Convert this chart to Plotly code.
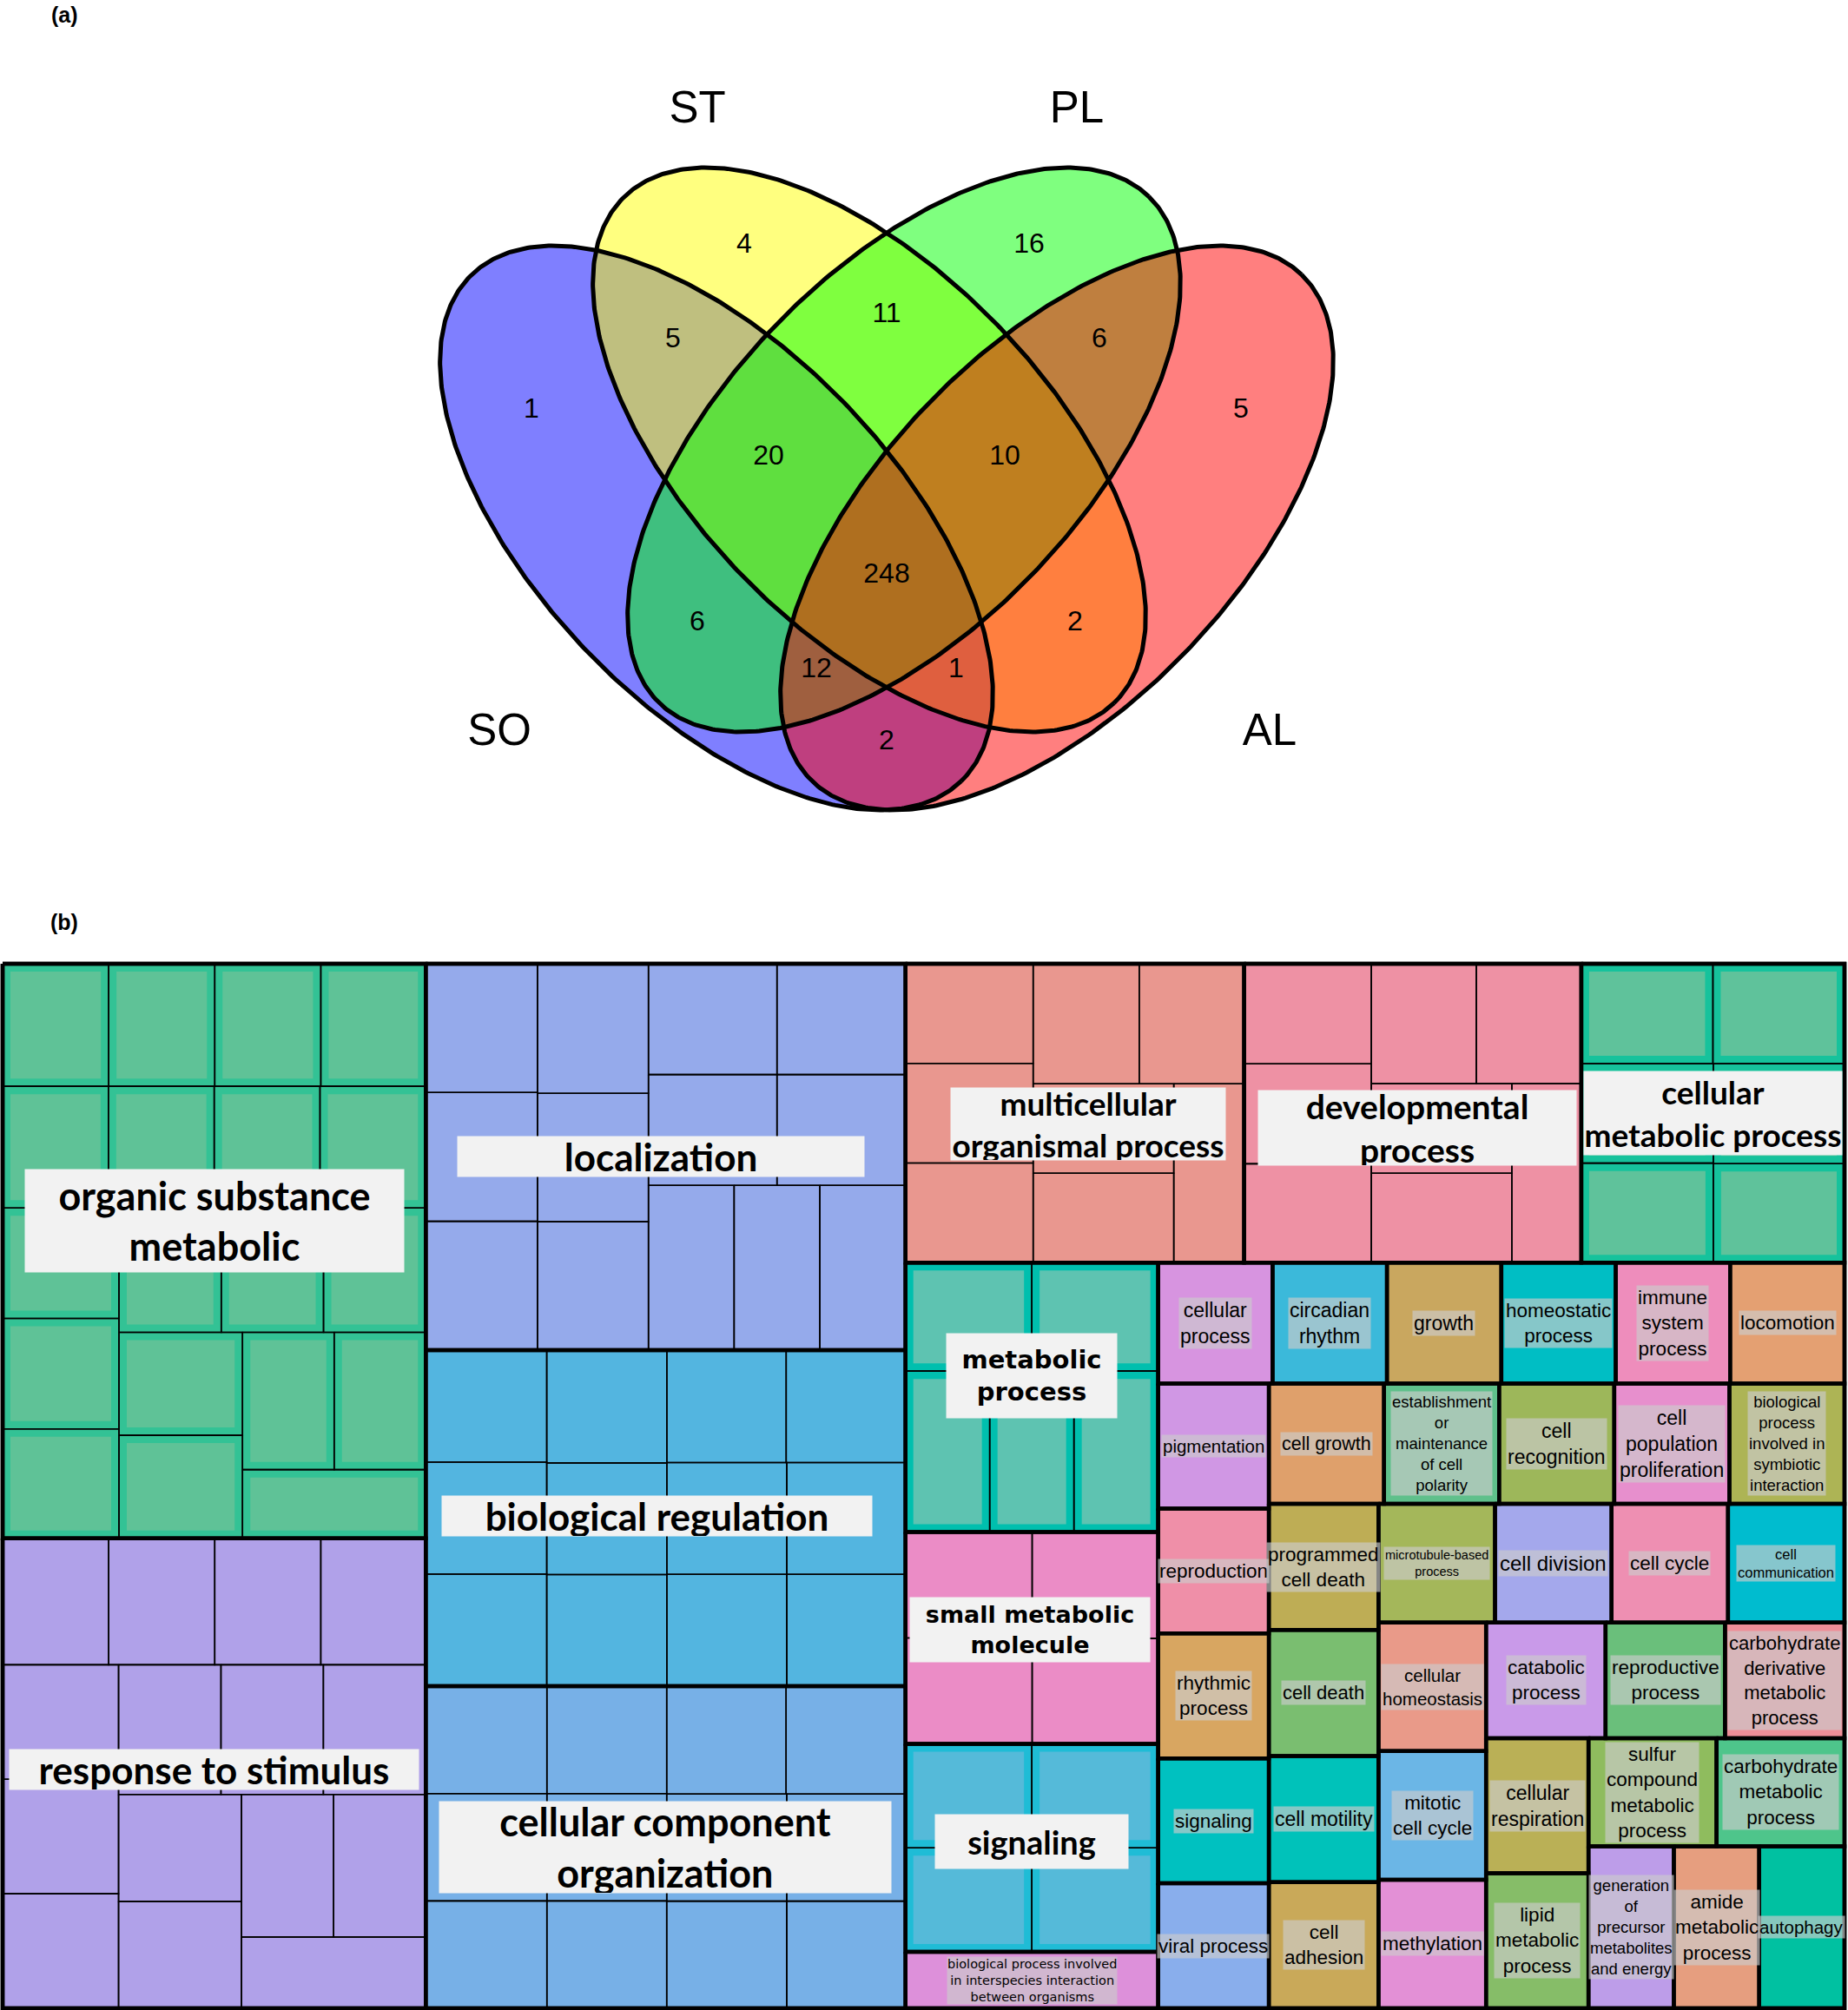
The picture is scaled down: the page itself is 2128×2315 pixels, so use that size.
import numpy as np
import plotly.graph_objects as go

# ======================= (a) Venn diagram data =======================
set_names = ["SO", "ST", "PL", "AL"]
region_names = ["SO", "ST", "PL", "AL", "SO&ST", "ST&PL", "PL&AL", "SO&ST&PL", "ST&PL&AL",
                "SO&ST&PL&AL", "SO&PL", "ST&AL", "SO&PL&AL", "SO&ST&AL", "SO&AL"]
region_counts = [1, 4, 16, 5, 5, 11, 6, 20, 10, 248, 6, 2, 12, 1, 2]

# ======================= (b) treemap data =======================
group_names = ["organic substance metabolic", "response to stimulus", "localization",
               "biological regulation", "cellular component organization",
               "multicellular organismal process", "developmental process",
               "cellular metabolic process", "metabolic process", "small metabolic molecule",
               "signaling group", "biological process involved in interspecies interaction between organisms"]
organic_vals = [0.94, 0.94, 0.94, 0.93, 0.93, 0.93, 0.93, 0.93, 0.93, 0.93, 0.92, 0.92, 0.92, 0.92, 0.92, 0.92, 0.91, 0.91, 0.91]
response_vals = [0.97, 0.97, 0.97, 0.96, 0.96, 0.96, 0.96, 0.96, 0.96, 0.96, 0.95, 0.95, 0.95, 0.95, 0.95]
localization_vals = [1.04, 1.04, 1.04, 1.04, 1.03, 1.03, 1.03, 1.03, 1.03, 1.03, 1.02, 1.02, 1.02]
bioreg_vals = [0.98, 0.98, 0.98, 0.98, 0.97, 0.97, 0.97, 0.97, 0.97, 0.97, 0.96, 0.96]
cco_vals = [0.94, 0.94, 0.94, 0.93, 0.93, 0.93, 0.93, 0.93, 0.93, 0.93, 0.92, 0.92]
multicell_vals = [0.92, 0.92, 0.92, 0.92, 0.91, 0.91, 0.91, 0.91]
dev_vals = [0.92, 0.92, 0.91, 0.91, 0.91, 0.91, 0.91, 0.90]
cellmeta_vals = [0.95, 0.95, 0.95, 0.95, 0.95, 0.94]
metabolic_vals = [0.99, 0.99, 0.98, 0.98, 0.98]
smallmol_vals = [0.97, 0.97, 0.97, 0.96]
signal_vals = [0.95, 0.95, 0.95, 0.95]
interspecies_vals = [1.03]
group_values = [organic_vals, response_vals, localization_vals, bioreg_vals, cco_vals,
                multicell_vals, dev_vals, cellmeta_vals, metabolic_vals, smallmol_vals,
                signal_vals, interspecies_vals]

single_names = ["cellular process", "circadian rhythm", "growth", "homeostatic process",
                "immune system process", "locomotion", "pigmentation", "reproduction",
                "rhythmic process", "signaling", "viral process", "cell growth",
                "establishment or maintenance of cell polarity", "cell recognition",
                "cell population proliferation",
                "biological process involved in symbiotic interaction",
                "programmed cell death", "cell death", "cell motility", "cell adhesion",
                "microtubule-based process", "cell division", "cell cycle", "cell communication",
                "cellular homeostasis", "mitotic cell cycle", "methylation", "catabolic process",
                "reproductive process", "carbohydrate derivative metabolic process",
                "cellular respiration", "lipid metabolic process",
                "sulfur compound metabolic process", "carbohydrate metabolic process",
                "generation of precursor metabolites and energy", "amide metabolic process",
                "autophagy"]
single_values = [1.0, 1.0, 1.0, 1.0, 1.0, 1.0, 1.0, 1.0, 1.0, 1.0, 1.0, 1.0, 1.0, 1.0, 1.0,
                 1.0, 1.0, 1.0, 1.0, 1.0, 1.0, 1.0, 1.0, 1.0, 1.0, 1.0, 1.0, 1.0, 1.0, 1.0,
                 1.0, 1.0, 1.0, 1.0, 1.0, 1.0, 1.0]

# ======================= styles =======================
W_FIG, H_FIG = 2128, 2315
venn_fill = ["rgba(0,0,255,0.5)", "rgba(255,255,0,0.5)", "rgba(0,255,0,0.5)", "rgba(255,0,0,0.5)"]
# ellipse geometry (figure pixel space): centre x, centre y, semi-major, semi-minor, angle(deg)
venn_geom = [(825, 608, 405.6, 206, 46), (1001, 518, 405.6, 206, 46),
             (1041, 518, 405.6, 206, -46), (1217, 608, 405.6, 206, -46)]
set_label_pos = [(575, 845), (803, 128), (1240, 128), (1462, 845)]
region_label_pos = [(612, 473), (857, 283), (1185, 283), (1429, 473), (775, 392), (1021, 363),
                    (1266, 392), (885, 527), (1157, 527), (1021, 663), (803, 718), (1238, 718),
                    (940, 772), (1101, 772), (1021, 855)]

TM_X0, TM_Y0, TM_W, TM_H = 3, 1110, 2121, 1203
INNER_ASPECT = 1.05   # horizontal stretch used when tiling the children of a group

group_style = {
    "organic substance metabolic": dict(fill="#33c295", inner="#5fc297"),
    "response to stimulus": dict(fill="#b0a1e9"),
    "localization": dict(fill="#95aaeb"),
    "biological regulation": dict(fill="#53b5e0"),
    "cellular component organization": dict(fill="#77b0e7"),
    "multicellular organismal process": dict(fill="#e9978f"),
    "developmental process": dict(fill="#ee91a4"),
    "cellular metabolic process": dict(fill="#16c29c", inner="#5fc29b"),
    "metabolic process": dict(fill="#00bfae", inner="#5ec3b1"),
    "small metabolic molecule": dict(fill="#eb8cc6"),
    "signaling group": dict(fill="#1fbcd6", inner="#55bad9"),
    "biological process involved in interspecies interaction between organisms": dict(fill="#dd90da"),
}
single_colors = {
    "cellular process": "#d794e0", "circadian rhythm": "#3bb9da", "growth": "#c9a75f",
    "homeostatic process": "#00bec4", "immune system process": "#ee8dbc", "locomotion": "#e4a072",
    "pigmentation": "#d097e4", "cell growth": "#dfa06b",
    "establishment or maintenance of cell polarity": "#5fc08b", "cell recognition": "#9db75a",
    "cell population proliferation": "#e78fcd",
    "biological process involved in symbiotic interaction": "#adb455",
    "reproduction": "#ef8fa8", "programmed cell death": "#bead55",
    "microtubule-based process": "#a4b75a", "cell division": "#a4a8ec", "cell cycle": "#ee8fb2",
    "cell communication": "#00bccf", "rhythmic process": "#d8a661", "cell death": "#7abe70",
    "cellular homeostasis": "#e99a89", "catabolic process": "#c99ae9",
    "reproductive process": "#6abf7b", "carbohydrate derivative metabolic process": "#ee8e98",
    "signaling": "#00c1c0", "cell motility": "#00c2ba", "mitotic cell cycle": "#6bb6e6",
    "cellular respiration": "#bab056", "sulfur compound metabolic process": "#8fbc5e",
    "carbohydrate metabolic process": "#4ec58b", "viral process": "#89aeec",
    "cell adhesion": "#c9a959", "methylation": "#e390d6", "lipid metabolic process": "#86bd68",
    "generation of precursor metabolites and energy": "#bd9de9",
    "amide metabolic process": "#e69e7f", "autophagy": "#00c1a1",
}
single_text = {
    "cellular process": ("cellular<br>process", 23), "circadian rhythm": ("circadian<br>rhythm", 23),
    "growth": ("growth", 23), "homeostatic process": ("homeostatic<br>process", 22.5),
    "immune system process": ("immune<br>system<br>process", 22.5), "locomotion": ("locomotion", 22.5),
    "pigmentation": ("pigmentation", 20.5), "cell growth": ("cell growth", 21.5),
    "establishment or maintenance of cell polarity":
        ("establishment<br>or<br>maintenance<br>of cell<br>polarity", 18.5),
    "cell recognition": ("cell<br>recognition", 23),
    "cell population proliferation": ("cell<br>population<br>proliferation", 23),
    "biological process involved in symbiotic interaction":
        ("biological<br>process<br>involved in<br>symbiotic<br>interaction", 18.5),
    "reproduction": ("reproduction", 22.5), "programmed cell death": ("programmed<br>cell death", 22.5),
    "microtubule-based process": ("microtubule-based<br>process", 14.5),
    "cell division": ("cell division", 24), "cell cycle": ("cell cycle", 22.5),
    "cell communication": ("cell<br>communication", 16.5),
    "rhythmic process": ("rhythmic<br>process", 22.5), "cell death": ("cell death", 22),
    "cellular homeostasis": ("cellular<br>homeostasis", 20.5),
    "catabolic process": ("catabolic<br>process", 22.5),
    "reproductive process": ("reproductive<br>process", 22.5),
    "carbohydrate derivative metabolic process":
        ("carbohydrate<br>derivative<br>metabolic<br>process", 22),
    "signaling": ("signaling", 22.5), "cell motility": ("cell motility", 23),
    "mitotic cell cycle": ("mitotic<br>cell cycle", 22.5),
    "cellular respiration": ("cellular<br>respiration", 23),
    "sulfur compound metabolic process": ("sulfur<br>compound<br>metabolic<br>process", 22.5),
    "carbohydrate metabolic process": ("carbohydrate<br>metabolic<br>process", 22.5),
    "viral process": ("viral process", 22.5), "cell adhesion": ("cell<br>adhesion", 22.5),
    "methylation": ("methylation", 22.5),
    "lipid metabolic process": ("lipid<br>metabolic<br>process", 22.5),
    "generation of precursor metabolites and energy":
        ("generation<br>of<br>precursor<br>metabolites<br>and energy", 18.5),
    "amide metabolic process": ("amide<br>metabolic<br>process", 22.5),
    "autophagy": ("autophagy", 20.5),
}
LATO = "Lato, Open Sans, sans-serif"
DEJA = "DejaVu Sans, Verdana, sans-serif"
big_labels = {
    "organic substance metabolic": dict(text="organic substance<br>metabolic", font=LATO, size=45, w=436, h=118, dx=0, dy=-35),
    "response to stimulus": dict(text="response to stimulus", font=LATO, size=44, w=471, h=46, dx=0, dy=-4),
    "localization": dict(text="localization", font=LATO, size=44, w=468, h=46, dx=-5, dy=0),
    "biological regulation": dict(text="biological regulation", font=LATO, size=44, w=495, h=46, dx=-10, dy=-3),
    "cellular component organization": dict(text="cellular component<br>organization", font=LATO, size=45, w=520, h=105, dx=0, dy=0),
    "multicellular organismal process": dict(text="multicellular<br>organismal process", font=LATO, size=37, w=316, h=83, dx=15, dy=12),
    "developmental process": dict(text="developmental<br>process", font=LATO, size=39, w=366, h=86, dx=5, dy=17),
    "cellular metabolic process": dict(text="cellular<br>metabolic process", font=LATO, size=37, w=297, h=96, dx=0, dy=0),
    "metabolic process": dict(text="metabolic<br>process", font=DEJA, size=29, w=196, h=97, dx=0, dy=-25),
    "small metabolic molecule": dict(text="small metabolic<br>molecule", font=DEJA, size=27, w=276, h=74, dx=-2, dy=-10),
    "signaling group": dict(text="signaling", font=LATO, size=38, w=222, h=62, dx=0, dy=-7),
}
SMALL_BOX = "rgba(204,204,204,0.66)"


# ======================= pivot-by-size treemap layout =======================
def pivot_layout(vals, x, y, w, h):
    n = len(vals)
    if n == 0:
        return []
    if n == 1:
        return [(x, y, w, h)]
    tot = float(sum(vals))
    p = vals[0]
    best, bk, s = None, 0, 0.0
    for k in range(n):
        s += vals[k]
        if w >= h:
            a, b = w * s / tot, h * p / s
        else:
            a, b = h * s / tot, w * p / s
        r = max(a / b, b / a)
        if best is None or r < best - 1e-9:
            best, bk = r, k
    s2 = float(sum(vals[:bk + 1]))
    if w >= h:
        cw, ph = w * s2 / tot, h * p / s2
        out = [(x, y, cw, ph)]
        out += pivot_layout(vals[1:bk + 1], x, y + ph, cw, h - ph)
        out += pivot_layout(vals[bk + 1:], x + cw, y, w - cw, h)
    else:
        ch, pw = h * s2 / tot, w * p / s2
        out = [(x, y, pw, ch)]
        out += pivot_layout(vals[1:bk + 1], x + pw, y, w - pw, ch)
        out += pivot_layout(vals[bk + 1:], x, y + ch, w, h - ch)
    return out


def child_layout(vals, rect):
    x, y, w, h = rect
    rs = pivot_layout(vals, 0.0, 0.0, w * INNER_ASPECT, h)
    return [(x + rx / INNER_ASPECT, y + ry, rw / INNER_ASPECT, rh) for rx, ry, rw, rh in rs]


items = [(g, vals) for g, vals in zip(group_names, group_values)]
items += [(nm, [v]) for nm, v in zip(single_names, single_values)]
items = sorted(items, key=lambda it: -sum(it[1]))
top_rects = pivot_layout([sum(v) for _, v in items], TM_X0, TM_Y0, TM_W, TM_H)

fig = go.Figure()


def rect_path(r, inset=0.0):
    x, y, w, h = r
    x0, y0, x1, y1 = x + inset, y + inset, x + w - inset, y + h - inset
    return [x0, x1, x1, x0, x0, None], [y0, y0, y1, y1, y0, None]


# ---- treemap cells ----
outline_x, outline_y = [], []
annotations = []
for (name, vals), rect in zip(items, top_rects):
    x, y, w, h = rect
    if name in group_style:
        st = group_style[name]
        child_rects = child_layout(sorted(vals, reverse=True), rect)
        xs, ys = [], []
        for cr in child_rects:
            px, py = rect_path(cr)
            xs += px
            ys += py
        fig.add_trace(go.Scatter(x=xs, y=ys, mode="lines", fill="toself", fillcolor=st["fill"],
                                 line=dict(color="black", width=1.6), hoverinfo="skip"))
        if "inner" in st:
            ix, iy = [], []
            for cr in child_rects:
                px, py = rect_path(cr, inset=9)
                ix += px
                iy += py
            fig.add_trace(go.Scatter(x=ix, y=iy, mode="lines", fill="toself", fillcolor=st["inner"],
                                     line=dict(width=0), hoverinfo="skip"))
    else:
        px, py = rect_path(rect)
        fig.add_trace(go.Scatter(x=px, y=py, mode="lines", fill="toself",
                                 fillcolor=single_colors[name], line=dict(width=0), hoverinfo="skip"))
    px, py = rect_path(rect)
    outline_x += px
    outline_y += py
    cx, cy = x + w / 2, y + h / 2
    if name in big_labels:
        bl = big_labels[name]
        annotations.append(dict(x=cx + bl["dx"], y=cy + bl["dy"], xref="x", yref="y", text="<b>%s</b>" % bl["text"],
                                showarrow=False, bgcolor="#f2f2f2", width=bl["w"], height=bl["h"],
                                borderpad=0, align="center", valign="middle",
                                font=dict(family=bl["font"], size=bl["size"], color="black")))
    elif name in single_text:
        t, sz = single_text[name]
        annotations.append(dict(x=cx, y=cy, xref="x", yref="y", text=t, showarrow=False,
                                bgcolor=SMALL_BOX, borderpad=1, align="center",
                                font=dict(family="Liberation Sans, Arial, sans-serif", size=sz, color="black")))
    elif name.startswith("biological process involved in interspecies"):
        annotations.append(dict(x=cx, y=cy, xref="x", yref="y",
                                text="biological process involved<br>in interspecies interaction<br>between organisms",
                                showarrow=False, bgcolor=SMALL_BOX, borderpad=0, align="center",
                                font=dict(family=DEJA, size=14.5, color="black")))

# outer frame
px, py = rect_path((TM_X0, TM_Y0, TM_W, TM_H))
outline_x += px
outline_y += py
fig.add_trace(go.Scatter(x=outline_x, y=outline_y, mode="lines",
                         line=dict(color="black", width=4.5), hoverinfo="skip"))

# ---- Venn ellipses ----
t = np.linspace(0, 2 * np.pi, 500)
ell = []
for (cx, cy, a, b, ang) in venn_geom:
    phi = np.deg2rad(ang)
    ex = cx + a * np.cos(t) * np.cos(phi) - b * np.sin(t) * np.sin(phi)
    ey = cy + a * np.cos(t) * np.sin(phi) + b * np.sin(t) * np.cos(phi)
    ell.append((ex, ey))
for (ex, ey), fc in zip(ell, venn_fill):
    fig.add_trace(go.Scatter(x=ex, y=ey, mode="lines", fill="toself", fillcolor=fc,
                             line=dict(width=0), hoverinfo="skip"))
for (ex, ey) in ell:
    fig.add_trace(go.Scatter(x=ex, y=ey, mode="lines", line=dict(color="black", width=5),
                             hoverinfo="skip"))

fig.add_trace(go.Scatter(x=[p[0] for p in region_label_pos], y=[p[1] for p in region_label_pos],
                         mode="text", text=[str(c) for c in region_counts],
                         textfont=dict(family="Liberation Sans, Arial, sans-serif", size=32, color="black"),
                         hoverinfo="skip"))
fig.add_trace(go.Scatter(x=[p[0] for p in set_label_pos], y=[p[1] for p in set_label_pos],
                         mode="text", text=set_names,
                         textfont=dict(family="Liberation Sans, Arial, sans-serif", size=51, color="black"),
                         hoverinfo="skip"))

annotations.append(dict(x=74, y=17, xref="x", yref="y", text="<b>(a)</b>", showarrow=False,
                        font=dict(family="Liberation Sans, Arial, sans-serif", size=25, color="black")))
annotations.append(dict(x=74, y=1062, xref="x", yref="y", text="<b>(b)</b>", showarrow=False,
                        font=dict(family="Liberation Sans, Arial, sans-serif", size=25, color="black")))

fig.update_layout(
    width=W_FIG, height=H_FIG, margin=dict(l=0, r=0, t=0, b=0),
    paper_bgcolor="white", plot_bgcolor="white", showlegend=False,
    xaxis=dict(range=[0, W_FIG], visible=False, fixedrange=True),
    yaxis=dict(range=[H_FIG, 0], visible=False, fixedrange=True),
    annotations=annotations,
)
fig.write_html("out.html", config={"displayModeBar": False},
               post_script="document.body.style.margin='0px';document.body.style.padding='0px';")
